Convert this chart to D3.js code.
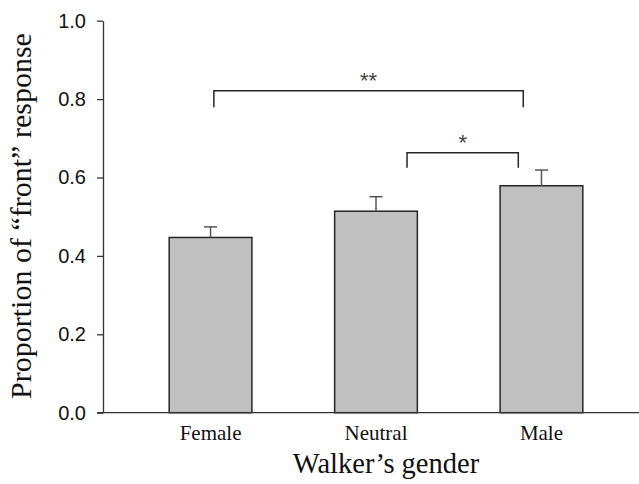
<!DOCTYPE html>
<html>
<head>
<meta charset="utf-8">
<script src="https://cdn.jsdelivr.net/npm/d3@7"></script>
<style>
  body { margin: 0; background: #fff; }
  svg { display: block; }
</style>
</head>
<body>
<svg width="639" height="484"></svg>
<script>
// chart data
const categories = ["Female", "Neutral", "Male"];
const means = [0.447, 0.514, 0.579];
const errors = [0.027, 0.037, 0.040];
const yTicks = [0.0, 0.2, 0.4, 0.6, 0.8, 1.0];

// significance brackets
const bracketFrom = ["Female", "Neutral"];
const bracketTo = ["Male", "Male"];
const bracketLevel = [0.821, 0.663];
const bracketTip = [0.779, 0.625];
const bracketLabel = ["**", "*"];

window.onload = () => {
	const svg = d3.select("svg");
	const width = +svg.attr("width");

	const axisLeftX = 103;
	const axisBottomY = 412.7;

	const x = d3.scaleBand()
		.domain(categories)
		.range([axisLeftX, 649])
		.paddingInner(0.5)
		.paddingOuter(0.4);

	const y = d3.scaleLinear()
		.domain([0, 1])
		.range([axisBottomY, 20.7]);

	const data = categories.map((c, i) => ({ cat: c, mean: means[i], err: errors[i] }));

	// bars
	svg.append("g")
		.selectAll("rect")
		.data(data)
		.enter()
		.append("rect")
		.attr("x", d => x(d.cat))
		.attr("y", d => y(d.mean))
		.attr("width", x.bandwidth())
		.attr("height", d => y(0) - y(d.mean))
		.attr("fill", "#c0c0c0")
		.attr("stroke", "#262626")
		.attr("stroke-width", 1.5);

	// error bars (upper only)
	const eb = svg.append("g")
		.attr("stroke", "#555")
		.attr("stroke-width", 1.5)
		.selectAll("g")
		.data(data)
		.enter()
		.append("g");
	eb.append("line")
		.attr("x1", d => x(d.cat) + x.bandwidth() / 2)
		.attr("x2", d => x(d.cat) + x.bandwidth() / 2)
		.attr("y1", d => y(d.mean))
		.attr("y2", d => y(d.mean + d.err));
	eb.append("line")
		.attr("x1", d => x(d.cat) + x.bandwidth() / 2 - 6.5)
		.attr("x2", d => x(d.cat) + x.bandwidth() / 2 + 6.5)
		.attr("y1", d => y(d.mean + d.err))
		.attr("y2", d => y(d.mean + d.err));

	// y axis
	const yAxis = svg.append("g")
		.attr("transform", `translate(${axisLeftX},0)`)
		.call(d3.axisLeft(y)
			.tickValues(yTicks)
			.tickFormat(d3.format(".1f"))
			.tickSize(6)
			.tickSizeOuter(0)
			.tickPadding(11));
	yAxis.selectAll("path, line").attr("stroke", "#333").attr("stroke-width", 1.3);
	yAxis.selectAll("text")
		.attr("fill", "#111")
		.style("font-family", "'Liberation Sans', Arial, sans-serif")
		.style("font-size", "20px");

	// x axis
	const xAxis = svg.append("g")
		.attr("transform", `translate(0,${axisBottomY})`)
		.call(d3.axisBottom(x).tickSize(0));
	xAxis.select(".domain")
		.attr("d", `M${axisLeftX - 6},0H${width}`)
		.attr("stroke", "#333")
		.attr("stroke-width", 1.3);
	xAxis.selectAll("text")
		.attr("y", 27)
		.attr("dy", 0)
		.attr("fill", "#111")
		.style("font-family", "'Liberation Serif', 'Times New Roman', serif")
		.style("font-size", "21px");

	// significance brackets
	const bracketData = bracketFrom.map((f, i) => ({
		from: f, to: bracketTo[i], level: bracketLevel[i], tip: bracketTip[i], label: bracketLabel[i]
	}));
	// where each bracket end sits inside its bar (fraction of bar width)
	const startFrac = [0.54, 0.875];
	const endFrac = [0.28, 0.22];

	const br = svg.append("g")
		.selectAll("g")
		.data(bracketData)
		.enter()
		.append("g");
	br.append("path")
		.attr("d", (d, i) => {
			const x1 = x(d.from) + x.bandwidth() * startFrac[i];
			const x2 = x(d.to) + x.bandwidth() * endFrac[i];
			return `M${x1},${y(d.tip)}V${y(d.level)}H${x2}V${y(d.tip)}`;
		})
		.attr("fill", "none")
		.attr("stroke", "#262626")
		.attr("stroke-width", 1.5);
	br.append("text")
		.attr("x", (d, i) => (x(d.from) + x.bandwidth() * startFrac[i] + x(d.to) + x.bandwidth() * endFrac[i]) / 2)
		.attr("y", d => y(d.level) - 3)
		.attr("text-anchor", "middle")
		.attr("fill", "#444")
		.style("font-family", "'Liberation Sans', Arial, sans-serif")
		.style("font-size", "22px")
		.text(d => d.label);

	// y label
	svg.append("text")
		.attr("transform", "rotate(-90)")
		.attr("x", -216)
		.attr("y", 31)
		.attr("text-anchor", "middle")
		.attr("fill", "#111")
		.style("font-family", "'Liberation Serif', 'Times New Roman', serif")
		.style("font-size", "30px")
		.text("Proportion of \u201Cfront\u201D response");

	// x label
	svg.append("text")
		.attr("x", 386)
		.attr("y", 473)
		.attr("text-anchor", "middle")
		.attr("fill", "#111")
		.style("font-family", "'Liberation Serif', 'Times New Roman', serif")
		.style("font-size", "28.5px")
		.text("Walker\u2019s gender");
};
</script>
</body>
</html>
